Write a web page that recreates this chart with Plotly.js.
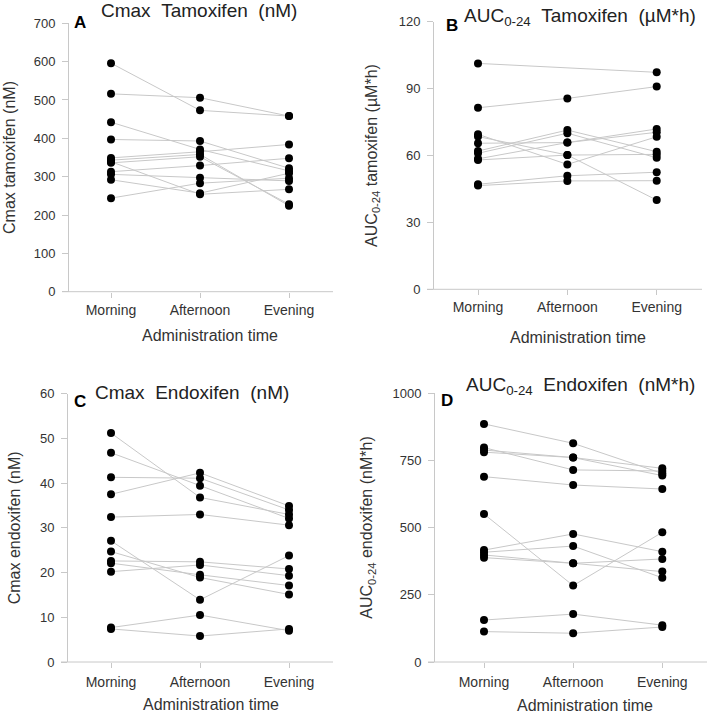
<!DOCTYPE html>
<html>
<head>
<meta charset="utf-8">
<script src="https://cdn.plot.ly/plotly-3.0.1.min.js"></script>
<style>html,body{margin:0;padding:0;background:#fff;}#chart{width:708px;height:715px;}</style>
</head>
<body>
<div id="chart"></div>
<script>
// ---- Data ----
const categories = ['Morning', 'Afternoon', 'Evening'];

// A: Cmax Tamoxifen (nM)
const cmaxTamMorning   = [596, 516, 442, 397, 349, 343, 339, 336, 313, 306, 292, 244];
const cmaxTamAfternoon = [473, 506, 371, 393, 365, 358, 254, 352, 329, 297, 257, 283];
const cmaxTamEvening   = [458, 458, 315, 322, 384, 224, 267, 228, 348, 289, 309, 296];

// B: AUC0-24 Tamoxifen (µM*h)
const aucTamMorning   = [101.3, 81.4, 69.5, 68.5, 65.5, 62.0, 61.0, 58.0, 58.5, 47.1, 46.5];
const aucTamAfternoon = [null, 85.6, 56.0, 60.2, 65.8, 71.4, 70.0, 60.2, 65.8, 50.9, 48.6];
const aucTamEvening   = [97.3, 90.9, 68.4, 40.0, 70.4, 61.7, 59.0, 60.5, 71.9, 52.5, 48.7];

// C: Cmax Endoxifen (nM)
const cmaxEndMorning   = [51.2, 46.8, 41.3, 37.5, 32.4, 27.1, 24.7, 22.6, 22.1, 20.2, 7.7, 7.4];
const cmaxEndAfternoon = [36.8, 39.4, 41.1, 42.3, 33.0, 13.9, 18.9, 22.4, 19.5, 21.7, 10.5, 5.8];
const cmaxEndEvening   = [33.0, 32.1, 34.0, 34.9, 30.6, 23.8, 15.1, 20.8, 17.1, 19.3, 7.0, 7.4];

// D: AUC0-24 Endoxifen (nM*h)
const aucEndMorning   = [885, 797, 788, 780, 689, 550, 416, 408, 398, 388, 156, 113];
const aucEndAfternoon = [813, 714, 760, 760, 658, 284, 476, 431, 367, 367, 178, 107];
const aucEndEvening   = [701, 710, 720, 693, 643, 482, 410, 313, 383, 336, 137, 130];

// Titles
const titleA = 'Cmax\u00a0\u00a0Tamoxifen\u00a0\u00a0(nM)';
const titleB = 'AUC<sub>0-24</sub>\u00a0\u00a0Tamoxifen\u00a0\u00a0(\u00b5M*h)';
const titleC = 'Cmax\u00a0\u00a0Endoxifen\u00a0\u00a0(nM)';
const titleD = 'AUC<sub>0-24</sub>\u00a0\u00a0Endoxifen\u00a0\u00a0(nM*h)';
const yTitleA = 'Cmax tamoxifen (nM)';
const yTitleB = 'AUC<sub>0-24</sub> tamoxifen (\u00b5M*h)';
const yTitleC = 'Cmax endoxifen (nM)';
const yTitleD = 'AUC<sub>0-24</sub> endoxifen (nM*h)';
const xTitle = 'Administration time';

// ---- Build ----
const W = 708, H = 715;
const fx = p => p / W;
const fy = p => 1 - p / H;
const FONT = '"Liberation Sans", Arial, sans-serif';
const LINEC = '#c8c8c8';
const AXC = '#c8c8c8';

const traces = [];
const markerTraces = [];
function addPanel(n, m, a, e) {
  const xa = n === 1 ? 'x' : 'x' + n;
  const ya = n === 1 ? 'y' : 'y' + n;
  const mx = [], my = [];
  for (let i = 0; i < m.length; i++) {
    const ys = [m[i], a[i], e[i]];
    traces.push({
      x: categories, y: ys, xaxis: xa, yaxis: ya, type: 'scatter', mode: 'lines',
      connectgaps: true, line: {color: LINEC, width: 1}, hoverinfo: 'skip', showlegend: false
    });
    ys.forEach((v, k) => { if (v !== null) { mx.push(categories[k]); my.push(v); } });
  }
  markerTraces.push({
    x: mx, y: my, xaxis: xa, yaxis: ya, type: 'scatter', mode: 'markers',
    marker: {color: '#000', size: 8}, showlegend: false, cliponaxis: false
  });
}
addPanel(1, cmaxTamMorning, cmaxTamAfternoon, cmaxTamEvening);
addPanel(2, aucTamMorning, aucTamAfternoon, aucTamEvening);
addPanel(3, cmaxEndMorning, cmaxEndAfternoon, cmaxEndEvening);
addPanel(4, aucEndMorning, aucEndAfternoon, aucEndEvening);

const axTitleFont = {family: FONT, size: 16, color: '#333'};

// x axis: domain chosen so its centre sits under the reference's axis title;
// the visible axis line is drawn as a shape instead.
function xAxis(x0, x1, r, anchor, standoff, tstand) {
  return {
    domain: [fx(x0), fx(x1)], range: r, type: 'category', categoryorder: 'array', categoryarray: categories,
    showline: false, ticks: 'outside', ticklen: 5, tickcolor: AXC,
    showgrid: false, zeroline: false, anchor: anchor, fixedrange: true, automargin: false,
    ticklabelstandoff: standoff,
    tickfont: {family: FONT, size: 14, color: '#333'},
    title: {text: xTitle, font: axTitleFont, standoff: tstand}
  };
}
function yAxis(yTop, yBot, r, dtick, pos, title, tstand) {
  return {
    domain: [fy(yBot), fy(yTop)], range: r, dtick: dtick, tick0: 0,
    anchor: 'free', position: fx(pos),
    showline: true, linecolor: AXC, linewidth: 1, ticks: 'outside', ticklen: 6, tickcolor: AXC,
    showgrid: false, zeroline: false, fixedrange: true, automargin: false,
    ticklabelstandoff: 4,
    tickfont: {family: FONT, size: 13, color: '#333'},
    title: {text: title, font: axTitleFont, standoff: tstand}
  };
}

function ann(text, x, y, size, opts) {
  return Object.assign({
    text: text, x: fx(x), y: fy(y), xref: 'paper', yref: 'paper',
    xanchor: 'center', yanchor: 'middle', showarrow: false,
    font: {family: FONT, size: size, color: '#222'}
  }, opts || {});
}
const letterFont = {family: FONT, size: 17, color: '#000'};

const annotations = [
  ann(titleA, 199, 11, 19),
  ann(titleB, 580, 17, 19),
  ann(titleC, 192, 392, 19),
  ann(titleD, 580, 386, 19),
  ann('<b>A</b>', 80, 22.5, 17, {font: letterFont}),
  ann('<b>B</b>', 452, 25, 17, {font: letterFont}),
  ann('<b>C</b>', 80, 401, 17, {font: letterFont}),
  ann('<b>D</b>', 447, 400, 17, {font: letterFont})
];

function hline(x0, x1, y) {
  return {type: 'line', xref: 'paper', yref: 'paper', x0: fx(x0), x1: fx(x1), y0: fy(y), y1: fy(y),
          line: {color: AXC, width: 1}};
}

const layout = {
  width: W, height: H, margin: {l: 0, r: 0, t: 0, b: 0},
  paper_bgcolor: '#fff', plot_bgcolor: '#fff', showlegend: false,
  font: {family: FONT},
  xaxis:  xAxis(78, 342, [-(111 - 78) / 89, 2 + (342 - 289) / 89], 'y', 0, 13),
  yaxis:  yAxis(23.3, 291.7, [0, 700], 100, 68, yTitleA, 13),
  xaxis2: xAxis(448, 708, [-(478 - 448) / 89.35, 2 + (708 - 656.7) / 89.35], 'y2', 0, 17),
  yaxis2: yAxis(21.7, 289.3, [0, 120], 30, 433, yTitleB, 16),
  xaxis3: xAxis(78, 344, [-(111 - 78) / 89, 2 + (344 - 289) / 89], 'y3', 2, 10),
  yaxis3: yAxis(393.7, 662, [0, 60], 10, 67, yTitleC, 14),
  xaxis4: xAxis(463, 707, [-(484 - 463) / 89.15, 2 + (707 - 662.3) / 89.15], 'y4', 2, 11),
  yaxis4: yAxis(393, 662, [0, 1000], 250, 434, yTitleD, 14),
  annotations: annotations,
  shapes: [hline(62, 333, 291.7), hline(427, 702, 289.3), hline(61, 333, 662), hline(428, 707, 662)]
};

Plotly.newPlot('chart', traces.concat(markerTraces), layout, {staticPlot: true, displayModeBar: false});
</script>
</body>
</html>
